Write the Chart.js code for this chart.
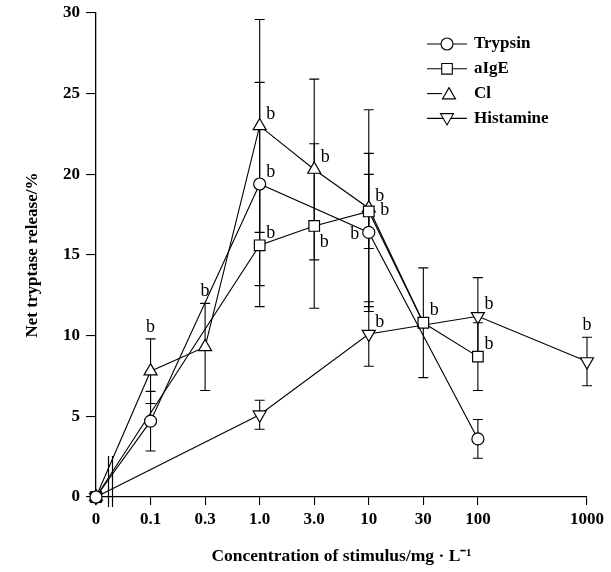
<!DOCTYPE html>
<html>
<head>
<meta charset="utf-8">
<script src="https://cdn.jsdelivr.net/npm/chart.js@4/dist/chart.umd.min.js"></script>
<style>
  html, body { margin: 0; padding: 0; background: #fff; }
  #wrap { width: 611px; height: 572px; position: relative; }
</style>
</head>
<body>
<div id="wrap"><canvas id="c" width="611" height="572"></canvas></div>
<script>
// ---- data ----
const xLabels = ['0', '0.1', '0.3', '1.0', '3.0', '10', '30', '100', '1000'];
const xSlots  = [0, 1, 2, 3, 4, 5, 6, 7, 9];   // category slots (300 slot left empty)
const yTicks  = [0, 5, 10, 15, 20, 25, 30];

const trypsin      = [0, 4.7, null, 19.4, null, 16.4, null, 3.6, null];
const trypsinErr   = [0, 1.85, null, 6.3, null, 4.9, null, 1.2, null];
const aIgE         = [0, null, null, 15.6, 16.8, 17.7, 10.8, 8.7, null];
const aIgEErr      = [0, null, null, 3.8, 5.1, 2.3, 3.4, 2.1, null];
const cl           = [0, 7.8, 9.3, 23.0, 20.3, 17.9, 10.8, null, null];
const clErr        = [0, 2.0, 2.7, 6.6, 5.6, 6.1, null, null, null];
const histamine    = [0, null, null, 5.1, null, 10.1, null, 11.2, 8.4];
const histamineErr = [0, null, null, 0.9, null, 2.0, null, 2.4, 1.5];

const seriesNames = ['Trypsin', 'aIgE', 'Cl', 'Histamine'];

// significance marks: [series, category, placement]
const sigLabels = [
  ['Cl', '0.1', 'above'], ['Cl', '0.3', 'above'],
  ['Cl', '1.0', 'ur'], ['Trypsin', '1.0', 'ur'], ['aIgE', '1.0', 'ur'],
  ['Cl', '3.0', 'ur'], ['aIgE', '3.0', 'dr'],
  ['Cl', '10', 'ur'], ['aIgE', '10', 'r'], ['Trypsin', '10', 'l'], ['Histamine', '10', 'ur'],
  ['aIgE', '30', 'ur'],
  ['Histamine', '100', 'ur'], ['aIgE', '100', 'ur'],
  ['Histamine', '1000', 'above']
];
// markers hidden where another series' marker sits on top
const hiddenMarkers = { Cl: ['30'] };

// ---- helpers ----
const SERIF = '"Liberation Serif", "Times New Roman", serif';
function pts(vals) {
  return vals.map((v, i) => ({ x: xSlots[i], y: v }));
}
const errs = { Trypsin: trypsinErr, aIgE: aIgEErr, Cl: clErr, Histamine: histamineErr };
const vals = { Trypsin: trypsin, aIgE: aIgE, Cl: cl, Histamine: histamine };

const styleOf = {
  Trypsin:   { pointStyle: 'circle',   radius: 6,   rotation: 0 },
  aIgE:      { pointStyle: 'rect',     radius: 7.5, rotation: 0 },
  Cl:        { pointStyle: 'triangle', radius: 7.5, rotation: 0 },
  Histamine: { pointStyle: 'triangle', radius: 7.5, rotation: 180 }
};

function makeDataset(name) {
  const st = styleOf[name];
  const hidden = hiddenMarkers[name] || [];
  return {
    label: name,
    data: pts(vals[name]),
    borderColor: '#000',
    borderWidth: 1.1,
    backgroundColor: '#fff',
    pointBackgroundColor: '#fff',
    pointBorderColor: '#000',
    pointBorderWidth: 1.2,
    pointStyle: st.pointStyle,
    pointRotation: st.rotation,
    pointRadius: (ctx) => hidden.includes(xLabels[ctx.dataIndex]) ? 0 : st.radius,
    pointHoverRadius: st.radius,
    spanGaps: true,
    clip: false,
    tension: 0,
    fill: false
  };
}

// error bars
const errorBarPlugin = {
  id: 'errorBars',
  beforeDatasetsDraw(chart) {
    const ctx = chart.ctx;
    const xs = chart.scales.x, ys = chart.scales.y;
    ctx.save();
    ctx.strokeStyle = '#000';
    ctx.lineWidth = 1.1;
    seriesNames.forEach(name => {
      const v = vals[name], e = errs[name];
      v.forEach((val, i) => {
        if (val == null || e[i] == null || e[i] === 0) return;
        const px = xs.getPixelForValue(xSlots[i]);
        const top = ys.getPixelForValue(val + e[i]);
        const bot = ys.getPixelForValue(val - e[i]);
        ctx.beginPath();
        ctx.moveTo(px, top); ctx.lineTo(px, bot);
        ctx.moveTo(px - 5, top); ctx.lineTo(px + 5, top);
        ctx.moveTo(px - 5, bot); ctx.lineTo(px + 5, bot);
        ctx.stroke();
      });
    });
    ctx.restore();
  }
};

function drawMarker(ctx, style, x, y) {
  const r = style.radius;
  ctx.beginPath();
  if (style.pointStyle === 'circle') {
    ctx.arc(x, y, r, 0, Math.PI * 2);
  } else if (style.pointStyle === 'rect') {
    const s = r * Math.SQRT1_2;
    ctx.rect(x - s, y - s, 2 * s, 2 * s);
  } else {
    const dir = style.rotation === 180 ? -1 : 1;
    for (let k = 0; k < 3; k++) {
      const a = (k * 2 * Math.PI) / 3;
      const px = x + Math.sin(a) * r;
      const py = y - dir * Math.cos(a) * r;
      if (k === 0) ctx.moveTo(px, py); else ctx.lineTo(px, py);
    }
    ctx.closePath();
  }
  ctx.fillStyle = '#fff';
  ctx.fill();
  ctx.stroke();
}

const decorPlugin = {
  id: 'decor',
  afterDatasetsDraw(chart) {
    const ctx = chart.ctx;
    const xs = chart.scales.x, ys = chart.scales.y;
    const area = chart.chartArea;
    ctx.save();
    // significance labels
    ctx.fillStyle = '#000';
    ctx.font = '18px ' + SERIF;
    ctx.textAlign = 'center';
    ctx.textBaseline = 'middle';
    const off = { ur: [11, -12], r: [16, -1], l: [-14, 2], dr: [10, 16] };
    sigLabels.forEach(([name, cat, place]) => {
      const i = xLabels.indexOf(cat);
      const v = vals[name][i];
      const px = xs.getPixelForValue(xSlots[i]);
      let tx, ty;
      if (place === 'above') {
        tx = px;
        ty = ys.getPixelForValue(v + (errs[name][i] || 0)) - 12;
      } else {
        tx = px + off[place][0];
        ty = ys.getPixelForValue(v) + off[place][1];
      }
      ctx.fillText('b', tx, ty);
    });

    // axis break marks
    ctx.strokeStyle = '#000';
    ctx.lineWidth = 1.2;
    [0.225, 0.3].forEach(f => {
      const bx = Math.round(xs.getPixelForValue(f)) + 0.5;
      ctx.beginPath();
      ctx.moveTo(bx, area.bottom - 41);
      ctx.lineTo(bx, area.bottom + 10);
      ctx.stroke();
    });

    // legend
    ctx.lineWidth = 1.1;
    ctx.font = 'bold 17px ' + SERIF;
    ctx.textAlign = 'left';
    ctx.textBaseline = 'middle';
    seriesNames.forEach((name, k) => {
      const ly = area.top + 31 + k * 24.8;
      const lx0 = 427, lx1 = 467, mx = 447;
      const st = styleOf[name];
      ctx.beginPath();
      ctx.moveTo(lx0, ly);
      ctx.lineTo(name === 'Cl' ? mx - 5 : lx1, ly);
      ctx.stroke();
      drawMarker(ctx, st, name === 'Cl' ? mx + 2 : mx, ly + (st.rotation === 180 ? -1 : (st.pointStyle === 'triangle' ? 1.5 : 0)));
      ctx.fillStyle = '#000';
      ctx.fillText(name, 474, ly);
    });
    ctx.restore();
  }
};

new Chart(document.getElementById('c'), {
  type: 'line',
  data: { datasets: seriesNames.map(makeDataset) },
  options: {
    responsive: false,
    animation: false,
    devicePixelRatio: 1,
    layout: { padding: { left: 0, top: 13, right: 24, bottom: 0 } },
    plugins: {
      legend: { display: false },
      tooltip: { enabled: false },
      title: { display: false }
    },
    scales: {
      x: {
        type: 'linear',
        min: xSlots[0],
        max: xSlots[xSlots.length - 1],
        afterBuildTicks: (scale) => { scale.ticks = xSlots.map(v => ({ value: v })); },
        afterFit: (scale) => { scale.height = 75; },
        ticks: {
          autoSkip: false,
          maxRotation: 0,
          padding: 4,
          color: '#000',
          font: { family: SERIF, size: 17, weight: 'bold' },
          callback: (value) => { const i = xSlots.indexOf(value); return i >= 0 ? xLabels[i] : ''; }
        },
        grid: { display: true, drawOnChartArea: false, drawTicks: true, tickLength: 8, color: '#000', lineWidth: 1.1 },
        border: { display: true, color: '#000', width: 1.3 },
        title: {
          display: true,
          text: 'Concentration of stimulus/mg \u00B7 L\u207B\u00B9',
          color: '#000',
          font: { family: SERIF, size: 17.5, weight: 'bold' },
          padding: { top: 0, bottom: 5 }
        }
      },
      y: {
        type: 'linear',
        min: 0,
        max: 30,
        afterBuildTicks: (scale) => { scale.ticks = yTicks.map(v => ({ value: v })); },
        afterFit: (scale) => { scale.width = 96; scale.paddingTop = 0; scale.paddingBottom = 0; },
        ticks: {
          padding: 6,
          color: '#000',
          font: { family: SERIF, size: 17, weight: 'bold' }
        },
        grid: { display: true, drawOnChartArea: false, drawTicks: true, tickLength: 10, color: '#000', lineWidth: 1.1 },
        border: { display: true, color: '#000', width: 1.3 },
        title: {
          display: true,
          text: 'Net tryptase release/%',
          color: '#000',
          font: { family: SERIF, size: 17, weight: 'bold' },
          padding: { top: 22, bottom: 0 }
        }
      }
    }
  },
  plugins: [errorBarPlugin, decorPlugin]
});
</script>
</body>
</html>
